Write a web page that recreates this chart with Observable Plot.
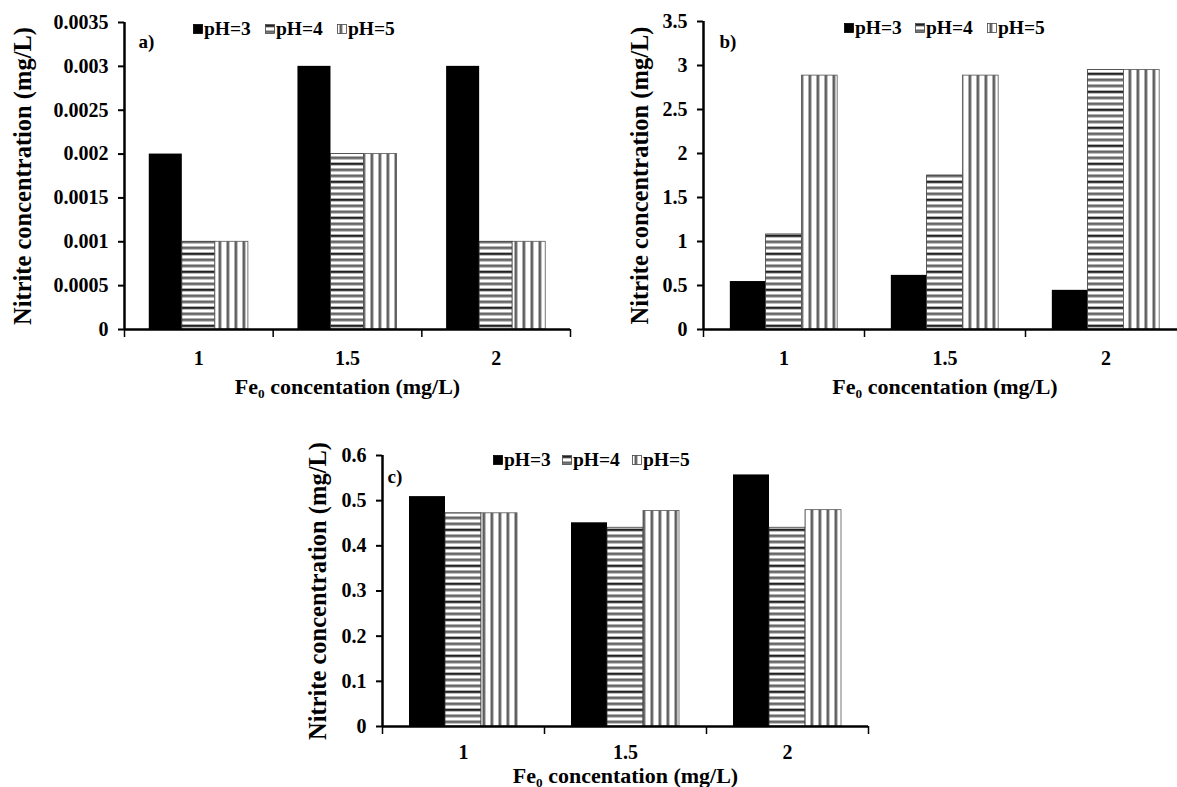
<!DOCTYPE html>
<html>
<head>
<meta charset="utf-8">
<script src="https://cdn.jsdelivr.net/npm/d3@7"></script>
<script src="https://cdn.jsdelivr.net/npm/@observablehq/plot@0.6"></script>
<style>
html,body{margin:0;padding:0;background:#fff;}
#fig{position:relative;width:1177px;height:787px;overflow:hidden;background:#fff;font-family:"Liberation Serif","Times New Roman",serif;font-weight:bold;color:#000;}
.panel{position:absolute;}
.item{position:absolute;display:flex;align-items:center;font-size:19.5px;line-height:19.5px;white-space:nowrap;}
.item svg{margin-right:1px;display:block;}
</style>
</head>
<body>
<svg width="0" height="0" style="position:absolute">
  <defs>
    <pattern id="hstr" patternUnits="userSpaceOnUse" width="10" height="18">
      <rect width="10" height="18" fill="#fff"/>
      <rect y="0" width="10" height="3.8" fill="#b0b0b0"/>
      <rect y="1.1" width="10" height="1.6" fill="#111"/>
      <rect y="6" width="10" height="3.8" fill="#b0b0b0"/>
      <rect y="7.1" width="10" height="1.6" fill="#5e5e5e"/>
      <rect y="12" width="10" height="3.8" fill="#b0b0b0"/>
      <rect y="13.1" width="10" height="1.6" fill="#5e5e5e"/>
    </pattern>
    <pattern id="vstr" patternUnits="userSpaceOnUse" width="8" height="10">
      <rect width="8" height="10" fill="#fff"/>
      <rect x="2" width="3.8" height="10" fill="#b0b0b0"/>
      <rect x="3.1" width="1.6" height="10" fill="#555"/>
    </pattern>
  </defs>
</svg>
<div id="fig"></div>
<script>
// ---------- data ----------
const categories = ["1", "1.5", "2"];
const seriesNames = ["pH=3", "pH=4", "pH=5"];

// panel a
const aPH3 = [0.002, 0.003, 0.003];
const aPH4 = [0.001, 0.002, 0.001];
const aPH5 = [0.001, 0.002, 0.001];
const aTicks = [0, 0.0005, 0.001, 0.0015, 0.002, 0.0025, 0.003, 0.0035];
const aTickLabels = ["0", "0.0005", "0.001", "0.0015", "0.002", "0.0025", "0.003", "0.0035"];

// panel b
const bPH3 = [0.545, 0.615, 0.445];
const bPH4 = [1.08, 1.75, 2.95];
const bPH5 = [2.885, 2.885, 2.95];
const bTicks = [0, 0.5, 1, 1.5, 2, 2.5, 3, 3.5];
const bTickLabels = ["0", "0.5", "1", "1.5", "2", "2.5", "3", "3.5"];

// panel c
const cPH3 = [0.509, 0.451, 0.557];
const cPH4 = [0.472, 0.44, 0.44];
const cPH5 = [0.472, 0.477, 0.479];
const cTicks = [0, 0.1, 0.2, 0.3, 0.4, 0.5, 0.6];
const cTickLabels = ["0", "0.1", "0.2", "0.3", "0.4", "0.5", "0.6"];

const yLabel = "Nitrite concentration (mg/L)";
const xLabel = "Fe₀ concentation (mg/L)";
const panelLabels = ["a)", "b)", "c)"];

// ---------- styles ----------
const fills = ["#000", "url(#hstr)", "url(#vstr)"];
const strokes = ["none", "#333", "#555"];

const panels = [
  {values: [aPH3, aPH4, aPH5], ticks: aTicks, tickLabels: aTickLabels, label: panelLabels[0],
   left: 0, top: 0, width: 590, height: 400, mL: 124, mR: 20, mT: 22, mB: 71,
   yLabelOffset: 111, xTickPad: 21, xLabelOffset: 64, pdx: 14, pdy: 12,
   legendLeft: [193, 265, 337], legendTop: 19},
  {values: [bPH3, bPH4, bPH5], ticks: bTicks, tickLabels: bTickLabels, label: panelLabels[1],
   left: 590, top: 0, width: 620, height: 400, mL: 113, mR: 24, mT: 21, mB: 71,
   yLabelOffset: 73, xTickPad: 21, xLabelOffset: 64, pdx: 16, pdy: 13,
   legendLeft: [844, 915, 987], legendTop: 18},
  {values: [cPH3, cPH4, cPH5], ticks: cTicks, tickLabels: cTickLabels, label: panelLabels[2],
   left: 280, top: 420, width: 620, height: 367, mL: 102, mR: 32, mT: 35, mB: 61,
   yLabelOffset: 74, xTickPad: 18, xLabelOffset: 56, pdx: 5, pdy: 14,
   legendLeft: [493, 562, 632], legendTop: 450}
];

const fig = document.getElementById("fig");
const barW = 2 / 9;

for (const p of panels) {
  const rows = p.values.flatMap((vals, si) => vals.map((v, ci) => ({cat: categories[ci], ci, si, v})));
  const x1 = d => d.ci + 1 / 6 + d.si * barW;
  const x2 = d => d.ci + 1 / 6 + (d.si + 1) * barW;
  const ymax = p.ticks[p.ticks.length - 1];

  const chart = Plot.plot({
    width: p.width,
    height: p.height,
    marginLeft: p.mL, marginRight: p.mR, marginTop: p.mT, marginBottom: p.mB,
    style: {fontFamily: '"Liberation Serif", "Times New Roman", serif', fontWeight: "bold", fontSize: "20px",
            color: "#000", background: "transparent", overflow: "visible", maxWidth: "none"},
    x: {type: "linear", domain: [0, categories.length]},
    y: {domain: [0, ymax]},
    marks: [
      ...seriesNames.map((s, si) =>
        Plot.rect(rows.filter(d => d.si === si), {
          x1, x2, y1: 0, y2: "v",
          fill: fills[si], stroke: strokes[si], strokeWidth: 0.8
        })
      ),
      Plot.axisY(p.ticks, {
        tickFormat: d => p.tickLabels[p.ticks.indexOf(d)],
        tickSize: 6, tickPadding: 10, strokeWidth: 2,
        label: yLabel, labelAnchor: "center", labelArrow: "none", labelOffset: p.yLabelOffset
      }),
      Plot.axisX(d3.range(categories.length + 1), {
        tickSize: 8, tickFormat: () => "", strokeWidth: 1.5, label: null
      }),
      Plot.axisX(categories.map((c, i) => i + 0.5), {
        tickSize: 0, tickPadding: p.xTickPad,
        tickFormat: d => categories[Math.floor(d)],
        label: xLabel, labelAnchor: "center", labelArrow: "none", labelOffset: p.xLabelOffset
      }),
      Plot.ruleY([0], {strokeWidth: 2.5}),
      Plot.ruleX([0], {strokeWidth: 2.5}),
      Plot.text([p.label], {frameAnchor: "top-left", textAnchor: "start", dx: p.pdx, dy: p.pdy, fontSize: 19})
    ]
  });

  const svg = d3.select(chart);
  svg.selectAll('[aria-label="y-axis label"]').style("font-size", "24.5px");
  svg.selectAll('[aria-label="x-axis label"]').style("font-size", "22px");

  const wrap = document.createElement("div");
  wrap.className = "panel";
  wrap.style.left = p.left + "px";
  wrap.style.top = p.top + "px";
  wrap.style.width = p.width + "px";
  wrap.style.height = p.height + "px";
  wrap.appendChild(chart);
  fig.appendChild(wrap);

  // legend
  seriesNames.forEach((s, si) => {
    const item = document.createElement("div");
    item.className = "item";
    item.style.left = p.legendLeft[si] + "px";
    item.style.top = p.legendTop + "px";
    item.innerHTML = `<svg width="10" height="10"><rect x="0.5" y="0.5" width="9" height="9" fill="${fills[si]}" stroke="${si === 0 ? "#000" : "#444"}" stroke-width="0.8"/></svg><span>${s}</span>`;
    fig.appendChild(item);
  });
}
</script>
</body>
</html>
